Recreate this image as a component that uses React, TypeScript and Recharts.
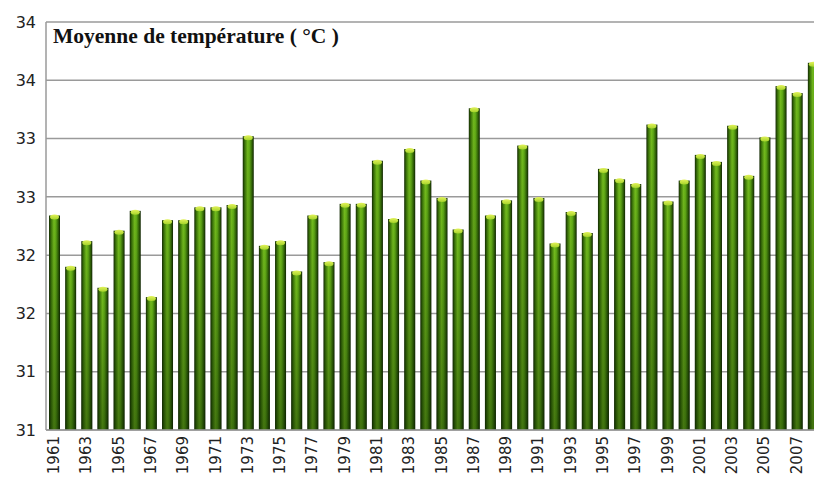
import { BarChart, Bar, XAxis, YAxis, CartesianGrid } from 'recharts';

const years = [
  1961, 1962, 1963, 1964, 1965, 1966, 1967, 1968, 1969, 1970, 1971, 1972,
  1973, 1974, 1975, 1976, 1977, 1978, 1979, 1980, 1981, 1982, 1983, 1984,
  1985, 1986, 1987, 1988, 1989, 1990, 1991, 1992, 1993, 1994, 1995, 1996,
  1997, 1998, 1999, 2000, 2001, 2002, 2003, 2004, 2005, 2006, 2007, 2008,
];

const temps = [
  32.84, 32.4, 32.62, 32.22, 32.71, 32.88, 32.14, 32.8, 32.8, 32.91, 32.91, 32.93,
  33.52, 32.58, 32.62, 32.36, 32.84, 32.44, 32.94, 32.94, 33.31, 32.81, 33.41, 33.14,
  32.99, 32.72, 33.76, 32.84, 32.97, 33.44, 32.99, 32.6, 32.87, 32.69, 33.24, 33.15,
  33.11, 33.62, 32.96, 33.14, 33.36, 33.3, 33.61, 33.18, 33.51, 33.95, 33.89, 34.15,
];

const yTicks = [31, 31.5, 32, 32.5, 33, 33.5, 34, 34.5];

const title = 'Moyenne de température ( °C )';

const data = years.map((year, i) => ({ year, temp: temps[i] }));

function Cylinder(props: any) {
  const { x, y, width, height } = props;
  if (!height || height <= 0) return null;
  return (
    <g>
      <rect x={x} y={y} width={width} height={height} fill="url(#barSide)" />
      <rect x={x} y={y} width={width} height={height} fill="url(#barShade)" />
      <ellipse cx={x + width / 2} cy={y + 1.5} rx={width / 2 - 1} ry={2.5} fill="url(#barCap)" />
    </g>
  );
}

function YearTick({ x, y, payload }: any) {
  return (
    <text
      x={x}
      y={y}
      transform={`rotate(-90, ${x}, ${y})`}
      textAnchor="end"
      dx={2}
      dy={5}
      fontSize={15}
      fontFamily="DejaVu Sans"
      fill="#222"
    >
      {payload.value}
    </text>
  );
}

export default function App() {
  return (
    <div
      style={{
        position: 'fixed',
        left: 0,
        top: 0,
        width: 814,
        height: 477,
        overflow: 'hidden',
        background: '#fff',
      }}
    >
      <BarChart
        width={814}
        height={477}
        data={data}
        margin={{ top: 22, right: 0, left: 0, bottom: 0 }}
      >
        <defs>
          <linearGradient id="barSide" x1="0" y1="0" x2="1" y2="0">
            <stop offset="0%" stopColor="#132a02" />
            <stop offset="20%" stopColor="#3e780a" />
            <stop offset="45%" stopColor="#74bc1e" />
            <stop offset="62%" stopColor="#60aa16" />
            <stop offset="85%" stopColor="#2e5e06" />
            <stop offset="100%" stopColor="#102402" />
          </linearGradient>
          <linearGradient id="barShade" x1="0" y1="0" x2="0" y2="1">
            <stop offset="0%" stopColor="#0a2000" stopOpacity={0} />
            <stop offset="100%" stopColor="#0a2000" stopOpacity={0.45} />
          </linearGradient>
          <linearGradient id="barCap" x1="0" y1="0" x2="0" y2="1">
            <stop offset="0%" stopColor="#e2f25a" />
            <stop offset="100%" stopColor="#a6d42a" />
          </linearGradient>
        </defs>
        <CartesianGrid vertical={false} stroke="#9a9a9a" strokeWidth={1.5} />
        <XAxis
          dataKey="year"
          interval={1}
          tick={<YearTick />}
          tickLine={false}
          axisLine={{ stroke: '#9a9a9a', strokeWidth: 1.5 }}
          padding={{ left: 0, right: -7 }}
          height={47}
        />
        <YAxis
          domain={[31, 34.5]}
          ticks={yTicks}
          tickFormatter={(v: number) => String(Math.floor(v))}
          tick={{ fontSize: 16, fill: '#222', fontFamily: 'DejaVu Sans' }}
          tickLine={false}
          tickMargin={4}
          axisLine={{ stroke: '#9a9a9a', strokeWidth: 1.5 }}
          width={46}
        />
        <Bar dataKey="temp" barSize={11} shape={<Cylinder />} isAnimationActive={false} />
      </BarChart>
      <div
        style={{
          position: 'absolute',
          left: 53,
          top: 25,
          fontFamily: '"Liberation Serif", "Times New Roman", serif',
          fontWeight: 'bold',
          fontSize: 21.5,
          lineHeight: '22px',
          color: '#111',
          whiteSpace: 'nowrap',
        }}
      >
        {title}
      </div>
    </div>
  );
}
